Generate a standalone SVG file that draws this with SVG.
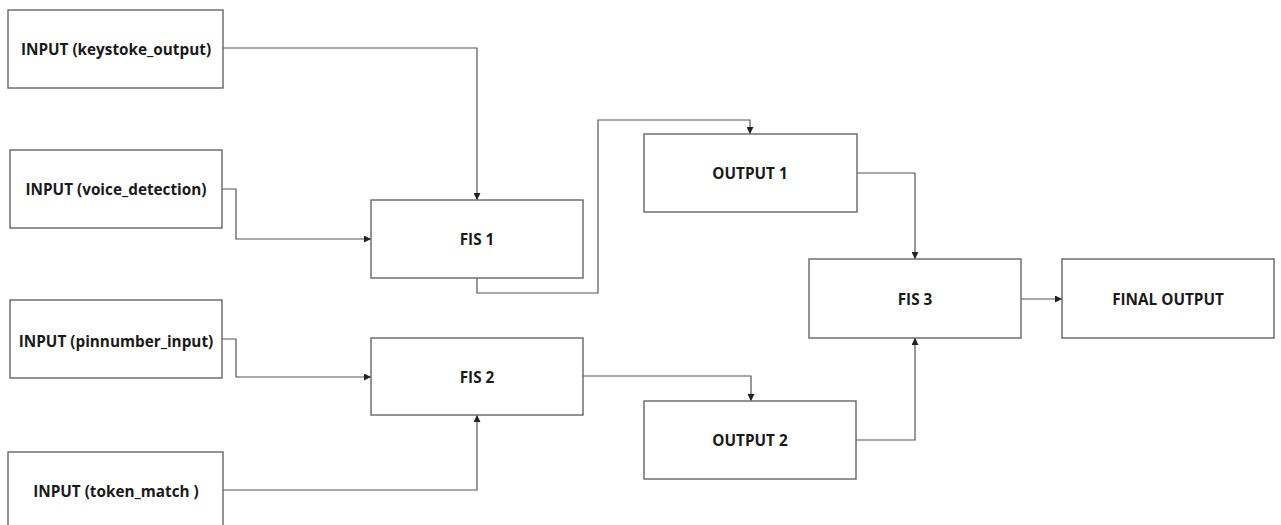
<svg xmlns="http://www.w3.org/2000/svg" width="1281" height="525" viewBox="0 0 1281 525">
<style>
.box{fill:#fff;stroke:#666;stroke-width:1.4}
.lbl{font-family:"Open Sans","Liberation Sans",sans-serif;font-weight:bold;font-size:15.3px;fill:#1a1a1a;text-anchor:middle;dominant-baseline:central}
.con{fill:none;stroke:#555;stroke-width:1.2}
</style>
<defs>
<marker id="ah" viewBox="0 0 10 10" refX="10" refY="5" markerWidth="7" markerHeight="7" orient="auto" markerUnits="userSpaceOnUse">
<path d="M0,0 L10,5 L0,10 Z" fill="#222"/>
</marker>
</defs>
<rect width="1281" height="525" fill="#fff"/>
<g id="connectors">
<path class="con" d="M223,48 H477 V200" marker-end="url(#ah)"/>
<path class="con" d="M222,189 H236 V239 H371" marker-end="url(#ah)"/>
<path class="con" d="M222,339 H236 V377 H371" marker-end="url(#ah)"/>
<path class="con" d="M223,490 H477 V415" marker-end="url(#ah)"/>
<path class="con" d="M477,278 V293 H598 V120 H750 V134" marker-end="url(#ah)"/>
<path class="con" d="M583,376 H751 V401" marker-end="url(#ah)"/>
<path class="con" d="M857,173 H915 V259" marker-end="url(#ah)"/>
<path class="con" d="M856,440 H915 V338" marker-end="url(#ah)"/>
<path class="con" d="M1021,299 H1062" marker-end="url(#ah)"/>
</g>
<g id="in1"><rect class="box" x="8" y="10" width="215" height="78"/><text class="lbl" x="116" y="49">INPUT (keystoke_output)</text></g>
<g id="in2"><rect class="box" x="10" y="150" width="212" height="78"/><text class="lbl" x="116" y="189">INPUT (voice_detection)</text></g>
<g id="in3"><rect class="box" x="10" y="300" width="212" height="78"/><text class="lbl" x="116" y="341">INPUT (pinnumber_input)</text></g>
<g id="in4"><rect class="box" x="8" y="452" width="215" height="80"/><text class="lbl" x="116" y="491">INPUT (token_match )</text></g>
<g id="fis1"><rect class="box" x="371" y="200" width="212" height="78"/><text class="lbl" x="477" y="239">FIS 1</text></g>
<g id="fis2"><rect class="box" x="371" y="338" width="212" height="77"/><text class="lbl" x="477" y="377">FIS 2</text></g>
<g id="out1"><rect class="box" x="644" y="134" width="213" height="78"/><text class="lbl" x="750" y="173">OUTPUT 1</text></g>
<g id="out2"><rect class="box" x="644" y="401" width="212" height="78"/><text class="lbl" x="750" y="440">OUTPUT 2</text></g>
<g id="fis3"><rect class="box" x="809" y="259" width="212" height="79"/><text class="lbl" x="915" y="299">FIS 3</text></g>
<g id="final"><rect class="box" x="1062" y="259" width="212" height="79"/><text class="lbl" x="1168" y="299">FINAL OUTPUT</text></g>
</svg>
